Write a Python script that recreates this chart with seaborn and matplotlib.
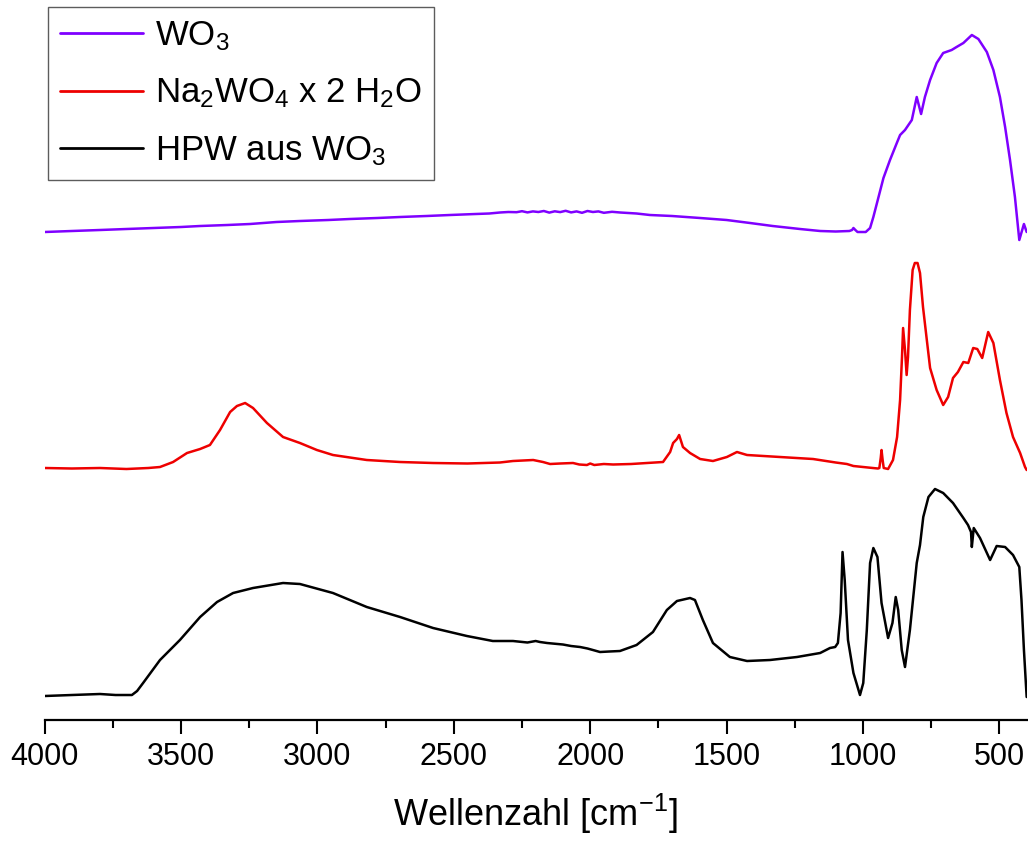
import numpy as np
import pandas as pd
import matplotlib
matplotlib.use("Agg")
import matplotlib.pyplot as plt
from matplotlib.ticker import MultipleLocator
import seaborn as sns

# IR spectra (transmission, arbitrary units, stacked with vertical offsets)
wo3_wn = [4000, 3900, 3797, 3700, 3600, 3500, 3430, 3330, 3247, 3150, 3064, 2960,
          2881, 2780, 2697, 2600, 2514, 2420, 2370, 2331, 2300, 2270, 2250, 2230,
          2210, 2190, 2170, 2150, 2130, 2110, 2090, 2070, 2050, 2030, 2010, 1990,
          1970, 1950, 1920, 1890, 1860, 1830, 1781, 1700, 1597, 1500, 1414, 1331,
          1231, 1157, 1100, 1050, 1040, 1035, 1028, 1020, 990, 974, 962, 943, 925,
          901, 876, 864, 846, 821, 803, 787, 773, 754, 730, 706, 675, 657, 632,
          601, 577, 546, 522, 498, 479, 461, 443, 427, 410, 400]
wo3_t = [4.88, 4.89, 4.90, 4.91, 4.92, 4.93, 4.94, 4.95, 4.96, 4.98, 4.99, 5.00,
         5.01, 5.02, 5.03, 5.04, 5.05, 5.06, 5.065, 5.075, 5.08, 5.078, 5.088, 5.076,
         5.086, 5.08, 5.09, 5.074, 5.087, 5.079, 5.092, 5.076, 5.086, 5.072, 5.09, 5.08,
         5.086, 5.072, 5.082, 5.075, 5.07, 5.065, 5.05, 5.04, 5.02, 5.00, 4.97, 4.94,
         4.91, 4.89, 4.885, 4.89, 4.90, 4.92, 4.90, 4.88, 4.88, 4.92, 5.03, 5.23, 5.42,
         5.60, 5.77, 5.85, 5.90, 6.00, 6.23, 6.06, 6.23, 6.40, 6.57, 6.67, 6.70, 6.73, 6.77,
         6.85, 6.81, 6.68, 6.50, 6.23, 5.93, 5.60, 5.23, 4.80, 4.96, 4.88]

na_wn = [4000, 3900, 3797, 3700, 3620, 3577, 3529, 3478, 3430, 3394, 3357, 3320,
         3295, 3265, 3236, 3185, 3126, 3064, 3002, 2943, 2819, 2697, 2576, 2450,
         2331, 2283, 2209, 2173, 2147, 2110, 2063, 2040, 2012, 2000, 1985, 1950,
         1916, 1850, 1792, 1733, 1707, 1696, 1682, 1674, 1660, 1634, 1597, 1550,
         1499, 1462, 1425, 1304, 1183, 1100, 1059, 1035, 964, 945, 940, 935, 932,
         928, 924, 908, 890, 875, 864, 857, 853, 846, 840, 835, 828, 818, 810, 800,
         791, 780, 766, 754, 730, 706, 688, 670, 652, 632, 614, 596, 581, 563, 541,
         522, 498, 474, 450, 424, 406, 400]
na_t = [2.52, 2.515, 2.52, 2.51, 2.52, 2.53, 2.58, 2.67, 2.71, 2.75, 2.90, 3.08,
        3.14, 3.17, 3.12, 2.97, 2.83, 2.77, 2.70, 2.65, 2.60, 2.58, 2.57, 2.565,
        2.575, 2.59, 2.60, 2.58, 2.56, 2.565, 2.57, 2.555, 2.55, 2.565, 2.55, 2.56,
        2.555, 2.56, 2.57, 2.58, 2.68, 2.77, 2.81, 2.85, 2.73, 2.67, 2.61, 2.59,
        2.63, 2.68, 2.65, 2.63, 2.61, 2.575, 2.56, 2.54, 2.52, 2.515, 2.52, 2.62, 2.70,
        2.60, 2.52, 2.51, 2.60, 2.83, 3.20, 3.63, 3.92, 3.70, 3.45, 3.63, 4.10, 4.50, 4.57, 4.57,
        4.47, 4.13, 3.80, 3.52, 3.30, 3.15, 3.23, 3.42, 3.48, 3.58, 3.57, 3.72, 3.71, 3.62, 3.88,
        3.77, 3.40, 3.07, 2.83, 2.67, 2.53, 2.50]

hpw_wn = [4000, 3900, 3797, 3740, 3680, 3661, 3639, 3577, 3504, 3430, 3368, 3309,
          3236, 3126, 3064, 2943, 2819, 2697, 2576, 2452, 2357, 2283, 2230, 2200,
          2184, 2158, 2100, 2070, 2037, 2010, 1990, 1964, 1930, 1891, 1830, 1770,
          1719, 1682, 1634, 1616, 1587, 1550, 1488, 1425, 1341, 1242, 1157, 1121,
          1102, 1092, 1082, 1075, 1067, 1055, 1035, 1011, 999, 986, 974, 962, 947,
          932, 908, 892, 880, 871, 858, 846, 828, 803, 791, 779, 760, 736, 706, 670,
          632, 615, 604, 601, 594, 571, 534, 510, 479, 450, 427, 419, 410, 400]
hpw_t = [0.24, 0.25, 0.26, 0.25, 0.25, 0.29, 0.37, 0.60, 0.80, 1.03, 1.18, 1.27,
         1.32, 1.37, 1.36, 1.27, 1.13, 1.03, 0.92, 0.84, 0.79, 0.79, 0.775, 0.79,
         0.78, 0.77, 0.755, 0.74, 0.73, 0.715, 0.70, 0.68, 0.685, 0.69, 0.75, 0.88,
         1.10, 1.19, 1.22, 1.20, 1.00, 0.77, 0.63, 0.59, 0.60, 0.63, 0.67, 0.72,
         0.73, 0.77, 1.07, 1.68, 1.40, 0.80, 0.47, 0.25, 0.37, 0.90, 1.57, 1.72, 1.63,
         1.17, 0.82, 0.97, 1.23, 1.10, 0.70, 0.53, 0.90, 1.57, 1.75, 2.03, 2.23, 2.31, 2.27, 2.17,
         2.02, 1.95, 1.88, 1.73, 1.92, 1.82, 1.60, 1.74, 1.73, 1.65, 1.53, 1.20, 0.70, 0.23]

labels = [r"WO$_3$", r"Na$_2$WO$_4$ x 2 H$_2$O", r"HPW aus WO$_3$"]
colors = ["#7f00ff", "#ee0000", "#000000"]

frames = []
for lab, wn, t in zip(labels, [wo3_wn, na_wn, hpw_wn], [wo3_t, na_t, hpw_t]):
    frames.append(pd.DataFrame({"Wellenzahl": wn, "T": t, "Probe": lab}))
df = pd.concat(frames, ignore_index=True)

sns.set_theme(style="white")
plt.rcParams["font.family"] = ["Liberation Sans", "DejaVu Sans"]
plt.rcParams["text.color"] = "black"
plt.rcParams["mathtext.fontset"] = "custom"
plt.rcParams["mathtext.rm"] = "Liberation Sans"
plt.rcParams["mathtext.it"] = "Liberation Sans"
plt.rcParams["mathtext.default"] = "regular"

fig = plt.figure(figsize=(10.28, 8.43), dpi=100)
ax = fig.add_axes([0.0434, 0.1459, 0.9553, 0.8541])

sns.lineplot(data=df, x="Wellenzahl", y="T", hue="Probe", hue_order=labels,
             palette=colors, estimator=None, linewidth=1.8, ax=ax,
             solid_joinstyle="round")

ax.set_xlim(4000, 400)
ax.set_ylim(0, 7.2)
ax.xaxis.set_major_locator(MultipleLocator(500))
ax.xaxis.set_minor_locator(MultipleLocator(250))
ax.tick_params(axis="x", which="major", direction="out", length=10, width=1.5,
               labelsize=22, pad=6, bottom=True, color="black", labelcolor="black")
ax.tick_params(axis="x", which="minor", direction="out", length=6, width=1.5,
               bottom=True, color="black")
ax.set_yticks([])
ax.set_ylabel("")
ax.set_xlabel(r"Wellenzahl [cm$^{-1}$]", fontsize=26, labelpad=14, color="black")

sns.despine(ax=ax, left=True)
ax.spines["bottom"].set_color("black")
ax.spines["bottom"].set_linewidth(1.6)

leg = ax.legend(loc="upper left", bbox_to_anchor=(0.003, 0.99), fontsize=25,
                frameon=True, fancybox=False, edgecolor="#333333",
                handlelength=2.4, handletextpad=0.35, labelspacing=0.68,
                borderpad=0.35, borderaxespad=0.0, title=None)
leg.get_frame().set_linewidth(1.0)
for txt in leg.get_texts():
    txt.set_color("black")
for h in leg.get_lines():
    h.set_linewidth(2.0)

fig.savefig("out.png", dpi=100, facecolor="white")
